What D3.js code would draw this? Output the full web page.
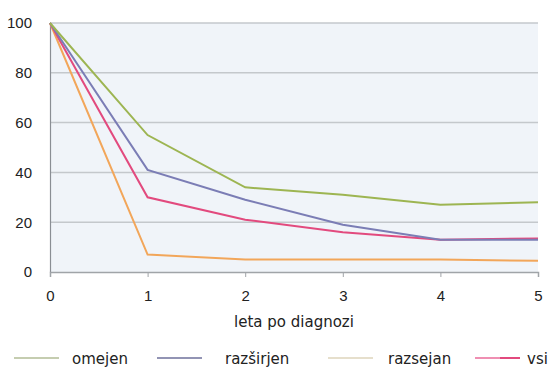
<!DOCTYPE html>
<html><head><meta charset="utf-8">
<script src="https://cdn.jsdelivr.net/npm/d3@7"></script>
<style>body{margin:0;background:#fff;} svg{display:block;font-family:"DejaVu Sans",sans-serif;}</style>
</head><body>
<svg id="c" width="554" height="370"></svg>
<script>
const years = [0, 1, 2, 3, 4, 5];
const omejen = [100, 55, 34, 31, 27, 28];
const razsirjen = [100, 41, 29, 19, 13, 13];
const razsejan = [100, 7, 5, 5, 5, 4.5];
const vsi = [100, 30, 21, 16, 13, 13.5];
const yTicks = [0, 20, 40, 60, 80, 100];
const seriesNames = ["omejen", "razširjen", "razsejan", "vsi"];
const seriesColors = ["#9db552", "#7b7db5", "#f2a65a", "#e24a7e"];
const legendColors = ["#c5cdb0", "#9294b4", "#e6dfcc", "#ef8fb2"];
const xTitle = "leta po diagnozi";

const svg = d3.select("#c");
const x = d3.scaleLinear().domain([0, 5]).range([50, 538]);
const y = d3.scaleLinear().domain([0, 100]).range([272, 23]);

svg.append("rect").attr("x", 50).attr("y", 23).attr("width", 488).attr("height", 249).attr("fill", "#f0f4f9");

svg.append("g").selectAll("line").data(yTicks.filter(d => d > 0)).join("line")
  .attr("x1", 50).attr("x2", 538).attr("y1", d => y(d)).attr("y2", d => y(d))
  .attr("stroke", "#c4c8cc").attr("stroke-width", 1.5);

const yAxis = svg.append("g").attr("transform", "translate(50,0)")
  .call(d3.axisLeft(y).tickValues(yTicks).tickSize(0).tickPadding(18));
yAxis.select(".domain").attr("stroke", "#8a8e94").attr("stroke-width", 1.2);
yAxis.selectAll("text").attr("font-size", 15).attr("fill", "#222");

const xAxis = svg.append("g").attr("transform", "translate(0,272)")
  .call(d3.axisBottom(x).tickValues(years).tickSize(5).tickPadding(13).tickFormat(d3.format("d")));
xAxis.select(".domain").attr("stroke", "#a0a4a8").attr("stroke-width", 1.5);
xAxis.selectAll(".tick line").attr("stroke", "#a0a4a8");
xAxis.selectAll("text").attr("font-size", 15).attr("fill", "#222");

svg.append("text").attr("x", 294).attr("y", 327).attr("text-anchor", "middle")
  .attr("font-size", 15).attr("fill", "#222").text(xTitle);

const data = [omejen, razsirjen, razsejan, vsi];
const line = d3.line().x((d, i) => x(years[i])).y(d => y(d));
const order = [2, 3, 1, 0];
order.forEach(k => {
  svg.append("path").attr("d", line(data[k])).attr("fill", "none")
    .attr("stroke", seriesColors[k]).attr("stroke-width", 2);
});

const legX = [14, 157, 328, 475];
const legTextX = [72, 225, 388, 527];
const lg = svg.append("g");
seriesNames.forEach((n, i) => {
  lg.append("line").attr("x1", legX[i]).attr("x2", legX[i] + 45).attr("y1", 358).attr("y2", 358)
    .attr("stroke", legendColors[i]).attr("stroke-width", 2);
  lg.append("text").attr("x", legTextX[i]).attr("y", 359).attr("dy", "0.35em")
    .attr("font-size", 15).attr("fill", "#222").text(n);
});
lg.append("line").attr("x1", 500).attr("x2", 520).attr("y1", 358).attr("y2", 358)
  .attr("stroke", seriesColors[3]).attr("stroke-width", 2);
</script>
</body></html>
